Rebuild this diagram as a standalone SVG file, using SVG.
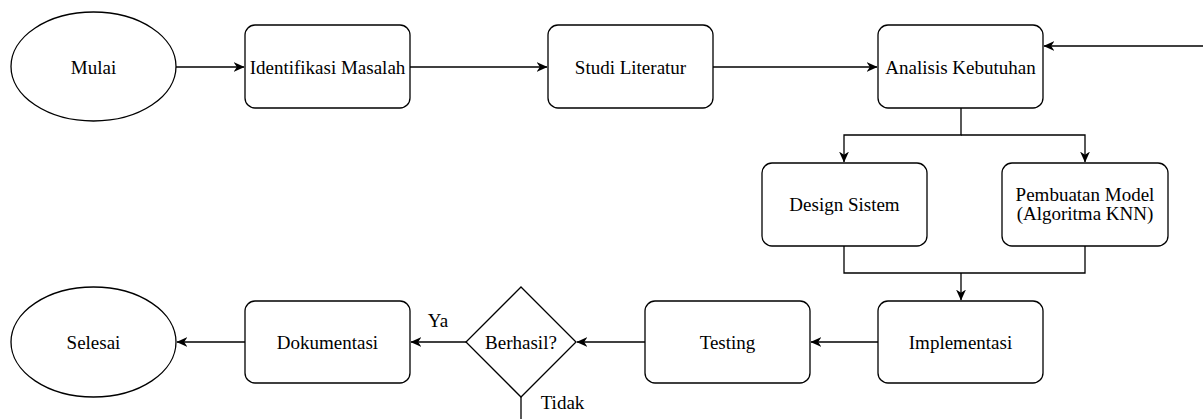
<svg xmlns="http://www.w3.org/2000/svg" width="1203" height="419" viewBox="0 0 1203 419">
  <style>
    .shape { fill: #ffffff; stroke: #000000; stroke-width: 1.3; }
    .edge { fill: none; stroke: #000000; stroke-width: 1.3; }
    .label { font-family: "Liberation Serif", "DejaVu Serif", "Times New Roman", serif; font-size: 19px; fill: #000000; text-anchor: middle; }
  </style>
  <defs>
    <!-- classic filled arrowhead shared by all connectors -->
    <marker id="arrow" viewBox="0 0 10 10" refX="9.5" refY="5" markerWidth="11" markerHeight="11" markerUnits="userSpaceOnUse" orient="auto">
      <path d="M0,0.5 L10,5 L0,9.5 L3,5 Z" fill="#000000"/>
    </marker>
  </defs>
  <rect width="1203" height="419" fill="#ffffff"/>

  <g id="connectors">
    <line class="edge" x1="176" y1="67" x2="244" y2="67" marker-end="url(#arrow)"/>
    <line class="edge" x1="410" y1="67" x2="547" y2="67" marker-end="url(#arrow)"/>
    <line class="edge" x1="713" y1="67" x2="877" y2="67" marker-end="url(#arrow)"/>
    <line class="edge" x1="1203" y1="46" x2="1044" y2="46" marker-end="url(#arrow)"/>
    <polyline class="edge" points="961,108 961,135 844,135 844,162" marker-end="url(#arrow)"/>
    <polyline class="edge" points="961,135 1085,135 1085,162" marker-end="url(#arrow)"/>
    <polyline class="edge" points="844,246 844,273 1085,273 1085,246"/>
    <line class="edge" x1="961" y1="273" x2="961" y2="300" marker-end="url(#arrow)"/>
    <line class="edge" x1="878" y1="342" x2="811" y2="342" marker-end="url(#arrow)"/>
    <line class="edge" x1="645" y1="342" x2="577" y2="342" marker-end="url(#arrow)"/>
    <line class="edge" x1="466" y1="342" x2="411" y2="342" marker-end="url(#arrow)"/>
    <line class="edge" x1="245" y1="342" x2="177" y2="342" marker-end="url(#arrow)"/>
    <line class="edge" x1="521" y1="397" x2="521" y2="419"/>
    <text class="label" x="438" y="327">Ya</text>
    <text class="label" x="562.5" y="409">Tidak</text>
  </g>

  <g id="mulai">
    <ellipse class="shape" cx="93.5" cy="66.5" rx="82.5" ry="54.5"/>
    <text class="label" x="93.5" y="73.5">Mulai</text>
  </g>
  <g id="identifikasi-masalah">
    <rect class="shape" x="245" y="25" width="165" height="83" rx="10"/>
    <text class="label" x="327.5" y="73.5">Identifikasi Masalah</text>
  </g>
  <g id="studi-literatur">
    <rect class="shape" x="548" y="25" width="165" height="83" rx="10"/>
    <text class="label" x="630.5" y="73.5">Studi Literatur</text>
  </g>
  <g id="analisis-kebutuhan">
    <rect class="shape" x="878" y="25" width="165" height="83" rx="10"/>
    <text class="label" x="960.5" y="73.5">Analisis Kebutuhan</text>
  </g>
  <g id="design-sistem">
    <rect class="shape" x="762" y="163" width="165" height="83" rx="10"/>
    <text class="label" x="844.5" y="210.5">Design Sistem</text>
  </g>
  <g id="pembuatan-model">
    <rect class="shape" x="1002" y="163" width="166" height="83" rx="10"/>
    <text class="label" x="1085" y="200.5">Pembuatan Model</text>
    <text class="label" x="1085" y="219.5">(Algoritma KNN)</text>
  </g>
  <g id="implementasi">
    <rect class="shape" x="878" y="301" width="165" height="82" rx="10"/>
    <text class="label" x="960.5" y="348.5">Implementasi</text>
  </g>
  <g id="testing">
    <rect class="shape" x="645" y="301" width="165" height="82" rx="10"/>
    <text class="label" x="727.5" y="348.5">Testing</text>
  </g>
  <g id="berhasil">
    <polygon class="shape" points="521,287 576,342 521,397 466,342"/>
    <text class="label" x="521" y="348.5">Berhasil?</text>
  </g>
  <g id="dokumentasi">
    <rect class="shape" x="245" y="301" width="165" height="82" rx="10"/>
    <text class="label" x="327.5" y="348.5">Dokumentasi</text>
  </g>
  <g id="selesai">
    <ellipse class="shape" cx="93.5" cy="342" rx="82.5" ry="55"/>
    <text class="label" x="93.5" y="348.5">Selesai</text>
  </g>
</svg>
